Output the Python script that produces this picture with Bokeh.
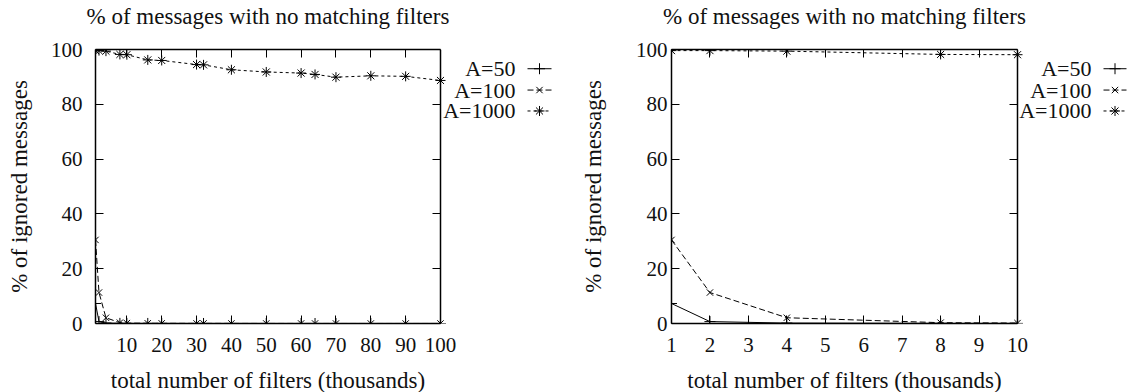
from bokeh.plotting import figure
from bokeh.layouts import row
from bokeh.models import Range1d, LinearAxis, FixedTicker, Title
from bokeh.core.properties import value
from bokeh.embed import file_html
from bokeh.resources import INLINE

# ---- data ----
filters_k = [1, 2, 4, 8, 10, 16, 20, 30, 32, 40, 50, 60, 64, 70, 80, 90, 100]
a50 = [7.3, 0.7, 0.15, 0.05, 0.03, 0.02, 0.02, 0.01, 0.01, 0.01, 0.0, 0.0, 0.0, 0.0, 0.0, 0.0, 0.0]
a100 = [30.5, 11.3, 2.1, 0.3, 0.15, 0.08, 0.06, 0.04, 0.04, 0.03, 0.02, 0.02, 0.02, 0.01, 0.01, 0.01, 0.01]
a1000 = [99.6, 99.6, 99.4, 98.2, 98.1, 96.2, 96.0, 94.5, 94.4, 92.6, 91.8, 91.4, 90.9, 89.9, 90.4, 90.2, 88.7]
series_names = ["A=50", "A=100", "A=1000"]
title_text = "% of messages with no matching filters"
xlabel_text = "total number of filters (thousands)"
ylabel_text = "% of ignored messages"
y_ticks = [0, 20, 40, 60, 80, 100]
left_x_ticks = [10, 20, 30, 40, 50, 60, 70, 80, 90, 100]
right_x_ticks = [1, 2, 3, 4, 5, 6, 7, 8, 9, 10]
right_max_x = 10

FONT = "Liberation Serif"
FS_LABEL = 23      # title / axis labels
FS_TICK = 21       # tick labels
FS_KEY = 22        # key entries
TXT = "#111111"
H = 392
FRAME_TOP, FRAME_BOTTOM = 49, 324          # pixel rows of y=100 and y=0
EM_TITLE = 15.78   # approx. width of the title in em (serif)
EM_XLABEL = 13.67  # approx. width of the x label in em

STYLES = [dict(marker="cross", size=11, dash="solid"),
          dict(marker="x", size=9, dash="6 3"),
          dict(marker="asterisk", size=10, dash="3 3")]


def make_plot(xs, ys_list, xticks, xmin, xmax, fig_x0, fig_w, box_l, box_r,
              ytick_standoff, ylabel_standoff, key_text_r, key_s0, key_s1):
    """box_l/box_r: window pixel columns of xmin/xmax. The frame runs on to the figure's
    right edge so that the key (beyond xmax) is drawn inside it."""
    ppu = (box_r - box_l) / (xmax - xmin)

    def X(px):
        return xmin + (px - box_l) / ppu

    def Y(py):
        return 100 * (FRAME_BOTTOM - py) / (FRAME_BOTTOM - FRAME_TOP)

    border_right = 3
    frame_r = fig_x0 + fig_w - border_right
    p = figure(width=fig_w, height=H, output_backend="svg", toolbar_location=None,
               x_range=Range1d(xmin, X(frame_r)), y_range=Range1d(0, 100),
               min_border_left=box_l - fig_x0, min_border_right=border_right,
               min_border_top=FRAME_TOP, min_border_bottom=H - FRAME_BOTTOM,
               x_axis_location=None, y_axis_location=None)
    p.grid.visible = False
    p.outline_line_color = None

    def style(ax, ticks, show):
        ax.ticker = FixedTicker(ticks=ticks)
        ax.minor_tick_line_color = None
        ax.major_tick_line_color = "black"
        ax.major_tick_line_width = 1
        ax.axis_line_color = "black"
        ax.axis_line_width = 1.5
        ax.major_label_text_font = FONT
        ax.axis_label_text_font = FONT
        ax.axis_label_text_font_style = "normal"
        ax.axis_label_text_font_size = f"{FS_LABEL}px"
        ax.axis_label_text_color = TXT
        ax.major_tick_in = 8
        ax.major_tick_out = 0
        if show:
            ax.major_label_text_font_size = f"{FS_TICK}px"
            ax.major_label_text_color = TXT
        else:
            ax.major_label_text_font_size = "1px"
            ax.major_label_text_color = None
            ax.major_label_standoff = 0

    def spacer(ax, ticks, gap):
        # blank labels that still take up `gap` pixels in the side panel
        ax.major_label_overrides = {t: " " for t in ticks}
        ax.major_label_text_color = "black"
        ax.major_label_text_font_size = "1px"
        ax.major_label_standoff = gap

    # bottom edge of the box with tick labels
    xb = LinearAxis(bounds=(xmin, xmax)); style(xb, xticks, True)
    xb.major_label_standoff = 14
    p.add_layout(xb, "below")
    gap_b = LinearAxis(); style(gap_b, [xmin], False)
    gap_b.major_tick_line_color = None
    gap_b.axis_line_color = None
    spacer(gap_b, [xmin], 7)
    p.add_layout(gap_b, "below")
    # x label, placed as a below-title so it can be centred on the box
    w_x = EM_XLABEL * FS_LABEL
    p.add_layout(Title(text=xlabel_text, align="left", vertical_align="bottom",
                       offset=(box_l + box_r) / 2 - w_x / 2 - box_l, standoff=0,
                       text_font=FONT, text_font_size=f"{FS_LABEL}px",
                       text_font_style="normal", text_color=TXT), "below")
    # top edge with mirrored ticks (its blank labels leave room below the title)
    xt = LinearAxis(bounds=(xmin, xmax)); style(xt, xticks, False)
    spacer(xt, xticks, 17)
    p.add_layout(xt, "above")
    w_t = EM_TITLE * FS_LABEL
    p.add_layout(Title(text=title_text, align="left", vertical_align="bottom",
                       offset=(box_l + box_r) / 2 - w_t / 2 - box_l, standoff=0,
                       text_font=FONT, text_font_size=f"{FS_LABEL}px",
                       text_font_style="normal", text_color=TXT), "above")
    # left axis
    yl = LinearAxis(); style(yl, y_ticks, True)
    yl.major_label_standoff = ytick_standoff
    yl.axis_label = ylabel_text
    yl.axis_label_standoff = ylabel_standoff
    p.add_layout(yl, "left")
    # right edge of the box with mirrored ticks, fixed at xmax
    yr = LinearAxis(fixed_location=xmax); style(yr, y_ticks, False)
    p.add_layout(yr, "right")

    for ys, st in zip(ys_list, STYLES):
        p.line(xs, ys, line_color="black", line_width=1, line_dash=st["dash"])
        p.scatter(xs, ys, marker=st["marker"], size=st["size"], line_color="black", line_width=1)

    # key: right-aligned names followed by line/marker samples
    rows_py = [68.3, 89.7, 110.7]
    ky = [Y(v) for v in rows_py]
    p.text(x=[X(key_text_r)] * 3, y=ky, text=series_names, text_align="right",
           text_baseline="middle", text_font=value(FONT), text_font_size=value(f"{FS_KEY}px"),
           text_color=TXT)
    for yy, st in zip(ky, STYLES):
        p.line([X(key_s0), X(key_s1)], [yy, yy], line_color="black", line_width=1,
               line_dash=st["dash"])
        p.scatter([X((key_s0 + key_s1) / 2)], [yy], marker=st["marker"], size=st["size"],
                  line_color="black", line_width=1)
    return p


n_right = sum(1 for v in filters_k if v <= right_max_x)
left = make_plot(filters_k, [a50, a100, a1000], left_x_ticks, 1, 100,
                 0, 576, 95, 440, 13, 16, 515, 527, 551)
right = make_plot(filters_k[:n_right], [a50[:n_right], a100[:n_right], a1000[:n_right]],
                  right_x_ticks, 1, right_max_x,
                  576, 554, 671, 1017, 4, 27, 1091, 1103, 1126)

layout = row(left, right, spacing=0)
open("out.html", "w").write(file_html(layout, INLINE))
